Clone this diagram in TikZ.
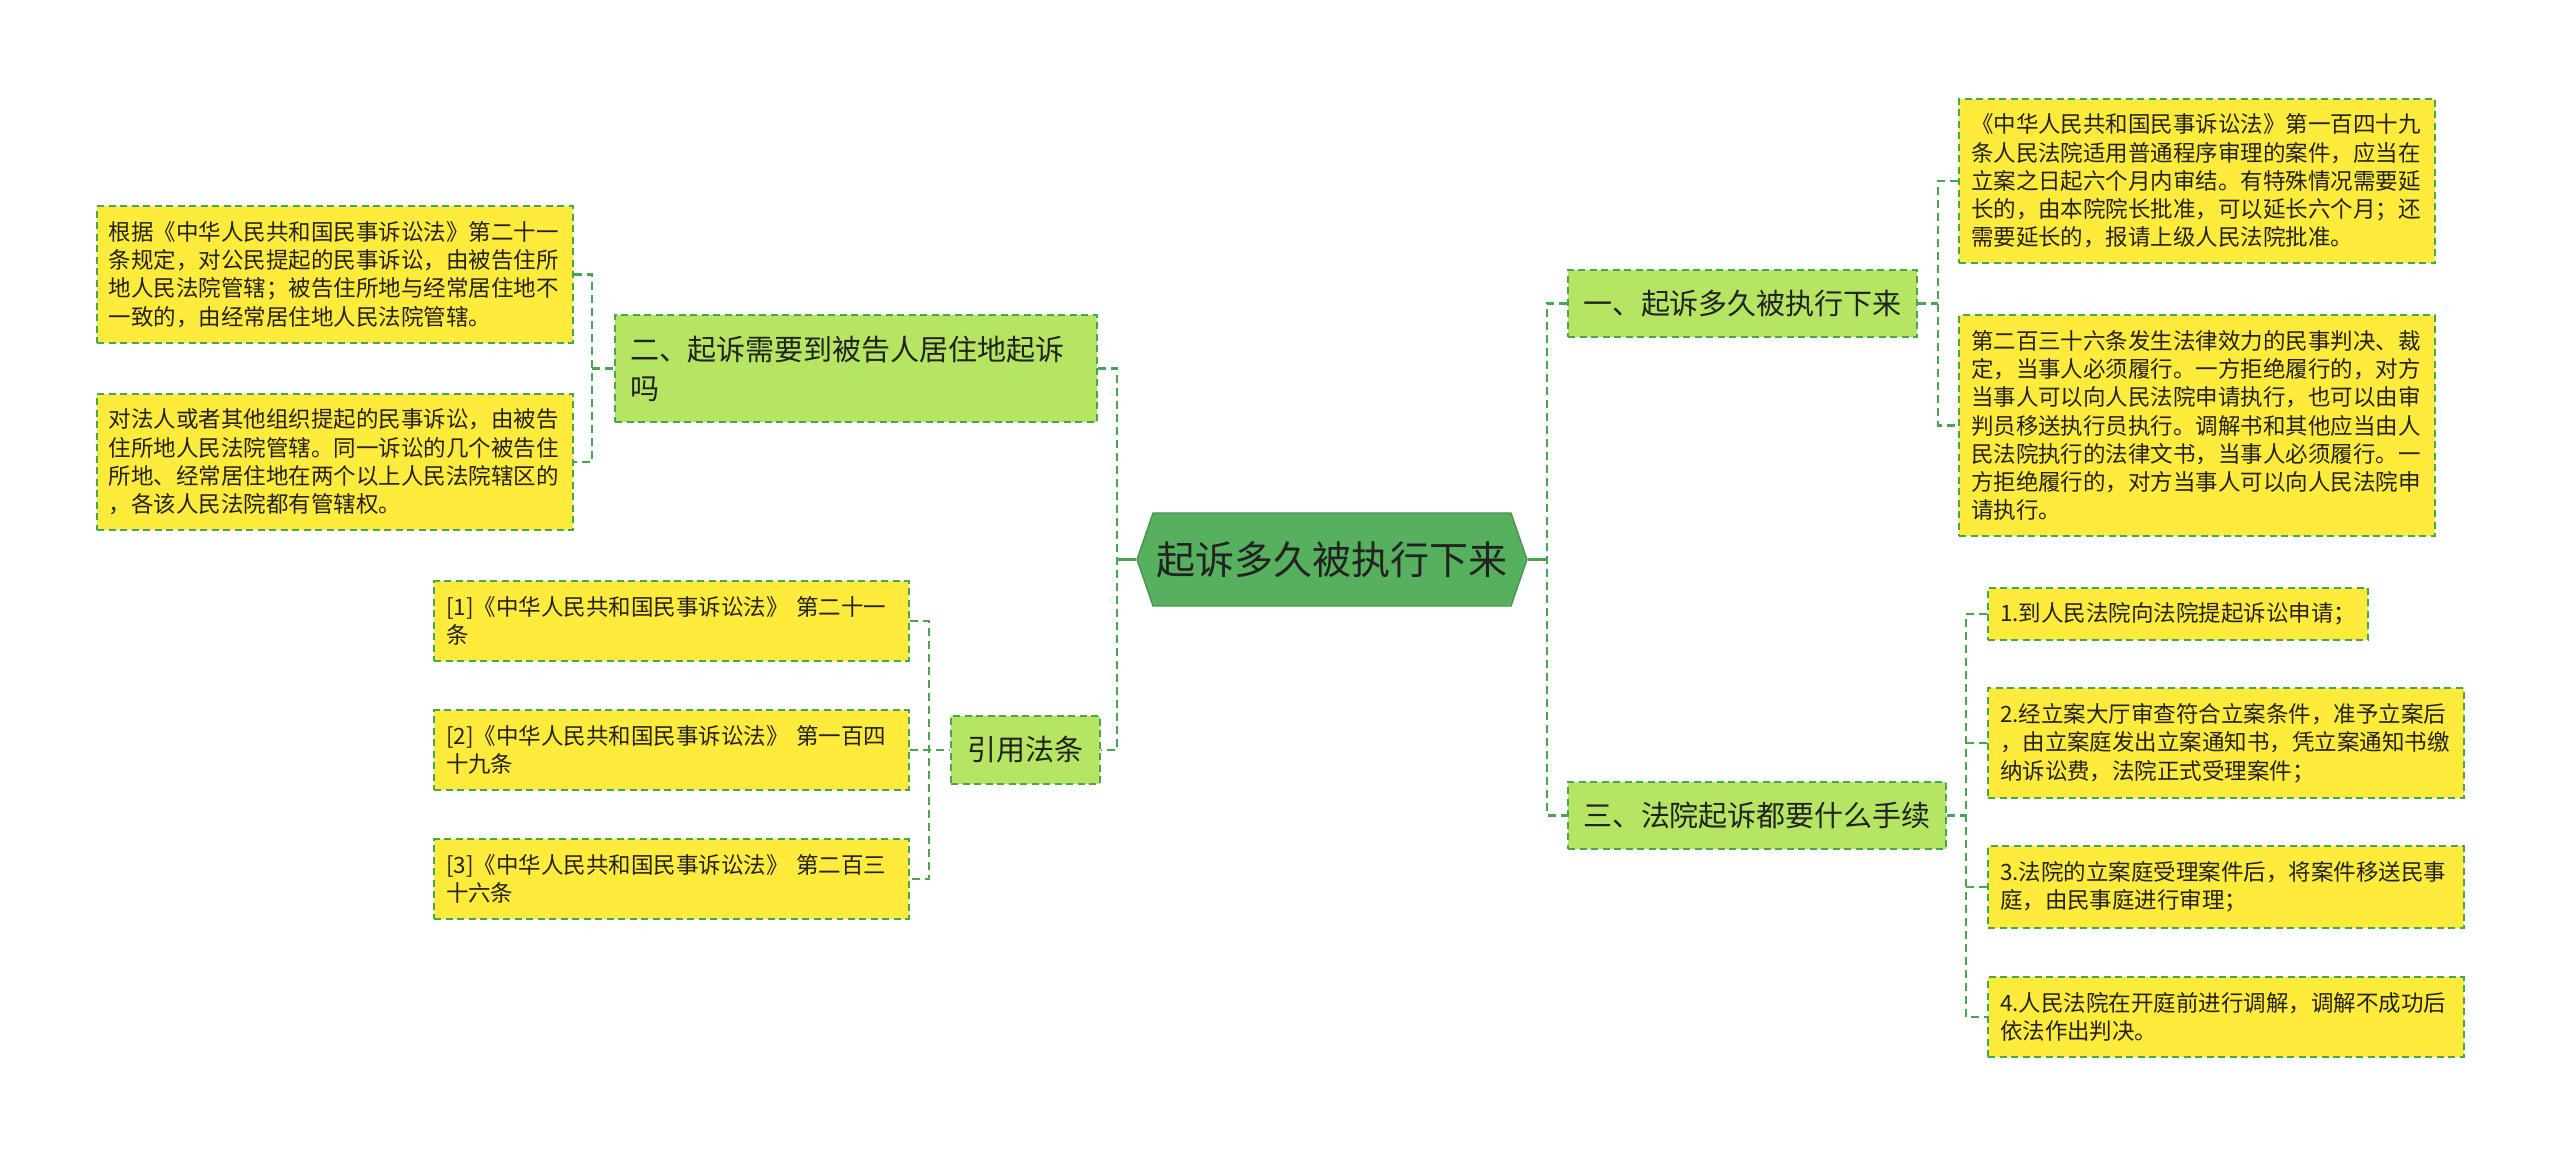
\documentclass[tikz,border=0pt]{standalone}
\usepackage{fontspec}
\setmainfont{Noto Sans CJK SC}
\usetikzlibrary{shapes.symbols}

\definecolor{linkgreen}{RGB}{72,165,80}
\definecolor{rootgreen}{RGB}{86,176,94}
\definecolor{midgreen}{RGB}{181,229,98}
\definecolor{leafyellow}{RGB}{255,235,59}
\definecolor{textgray}{RGB}{34,34,34}

\begin{document}
\begin{tikzpicture}[x=0.1mm, y=-0.1mm,
    link/.style={draw=linkgreen, line width=0.25mm, dash pattern=on 0.8mm off 0.5mm},
    stem/.style={draw=linkgreen, line width=0.25mm},
    rootbox/.style={shape=signal, signal to=east and west, signal pointer angle=142,
        fill=rootgreen, draw=rootgreen!85!black, text=textgray,
        font=\fontsize{11.1pt}{13pt}\selectfont, minimum width=39mm, minimum height=9.3mm, inner sep=0pt},
    midbox/.style={fill=midgreen, draw=linkgreen, line width=0.2mm, dash pattern=on 0.7mm off 0.45mm,
        text=textgray, font=\fontsize{8.25pt}{11.1pt}\selectfont,
        inner xsep=1.5mm, inner ysep=0pt, minimum height=6.7mm, anchor=west},
    leafbox/.style={fill=leafyellow, draw=linkgreen, line width=0.2mm, dash pattern=on 0.7mm off 0.45mm,
        text=textgray, font=\fontsize{6.4pt}{8.05pt}\selectfont,
        inner xsep=1.2mm, inner ysep=1.5mm, anchor=west},
    leafwide/.style={leafbox, text width=45.2mm, align=left}]
    \useasboundingbox (0,0) rectangle (2560,1154);

    % centre
    \node[rootbox] (root) at (1332,559.5) {起诉多久被执行下来};

    % main branches
    \node[midbox] (one) at (1567,303.5) {一、起诉多久被执行下来};
    \node[midbox, text width=45.2mm, align=left, minimum height=10.7mm] (two) at (614,368.5) {二、起诉需要到被告人居住地起诉\\吗};
    \node[midbox] (three) at (1567,815.5) {三、法院起诉都要什么手续};
    \node[midbox, inner xsep=1.65mm, minimum height=6.8mm] (cite) at (950,750) {引用法条};

    % leaves of two
    \node[leafwide] (twoa) at (96,274.5) {根据《中华人民共和国民事诉讼法》第二十一\\条规定，对公民提起的民事诉讼，由被告住所\\地人民法院管辖；被告住所地与经常居住地不\\一致的，由经常居住地人民法院管辖。};
    \node[leafwide] (twob) at (96,462) {对法人或者其他组织提起的民事诉讼，由被告\\住所地人民法院管辖。同一诉讼的几个被告住\\所地、经常居住地在两个以上人民法院辖区的\\，各该人民法院都有管辖权。};

    % leaves of cite
    \node[leafwide, text width=45.1mm] (citea) at (433,621) {[1]《中华人民共和国民事诉讼法》 第二十一\\条};
    \node[leafwide, text width=45.1mm] (citeb) at (433,750) {[2]《中华人民共和国民事诉讼法》 第一百四\\十九条};
    \node[leafwide, text width=45.1mm] (citec) at (433,879) {[3]《中华人民共和国民事诉讼法》 第二百三\\十六条};

    % leaves of one
    \node[leafwide] (onea) at (1958,181) {《中华人民共和国民事诉讼法》第一百四十九\\条人民法院适用普通程序审理的案件，应当在\\立案之日起六个月内审结。有特殊情况需要延\\长的，由本院院长批准，可以延长六个月；还\\需要延长的，报请上级人民法院批准。};
    \node[leafwide] (oneb) at (1958,425.5) {第二百三十六条发生法律效力的民事判决、裁\\定，当事人必须履行。一方拒绝履行的，对方\\当事人可以向人民法院申请执行，也可以由审\\判员移送执行员执行。调解书和其他应当由人\\民法院执行的法律文书，当事人必须履行。一\\方拒绝履行的，对方当事人可以向人民法院申\\请执行。};

    % leaves of three
    \node[leafbox] (threea) at (1987,614) {1.到人民法院向法院提起诉讼申请；};
    \node[leafwide] (threeb) at (1987,743) {2.经立案大厅审查符合立案条件，准予立案后\\，由立案庭发出立案通知书，凭立案通知书缴\\纳诉讼费，法院正式受理案件；};
    \node[leafwide] (threec) at (1987,887) {3.法院的立案庭受理案件后，将案件移送民事\\庭，由民事庭进行审理；};
    \node[leafwide] (threed) at (1987,1017) {4.人民法院在开庭前进行调解，调解不成功后\\依法作出判决。};

    % junctions
    \coordinate (jleft) at (1117,559.5);
    \coordinate (jright) at (1547,559.5);
    \coordinate (jtwo) at (592,368.5);
    \coordinate (jcite) at (929,750);
    \coordinate (jone) at (1938,303.5);
    \coordinate (jthree) at (1966,815.5);

    % connectors
    \draw[stem] (root.west) -- (jleft);
    \draw[stem] (root.east) -- (jright);
    \draw[link] (two.east) -| (jleft) |- (cite.east);
    \draw[link] (one.west) -| (jright) |- (three.west);
    \draw[link] (twoa.east) -| (jtwo) |- (twob.east);
    \draw[link] (jtwo) -- (two.west);
    \draw[link] (citea.east) -| (jcite) |- (citec.east);
    \draw[link] (citeb.east) -- (cite.west);
    \draw[link] (onea.west) -| (jone) |- (oneb.west);
    \draw[link] (one.east) -- (jone);
    \draw[link] (threea.west) -| (jthree) |- (threed.west);
    \draw[link] (three.east) -- (jthree);
    \draw[link] (threeb.west) -- (threeb.west -| jthree);
    \draw[link] (threec.west) -- (threec.west -| jthree);
\end{tikzpicture}
\end{document}
